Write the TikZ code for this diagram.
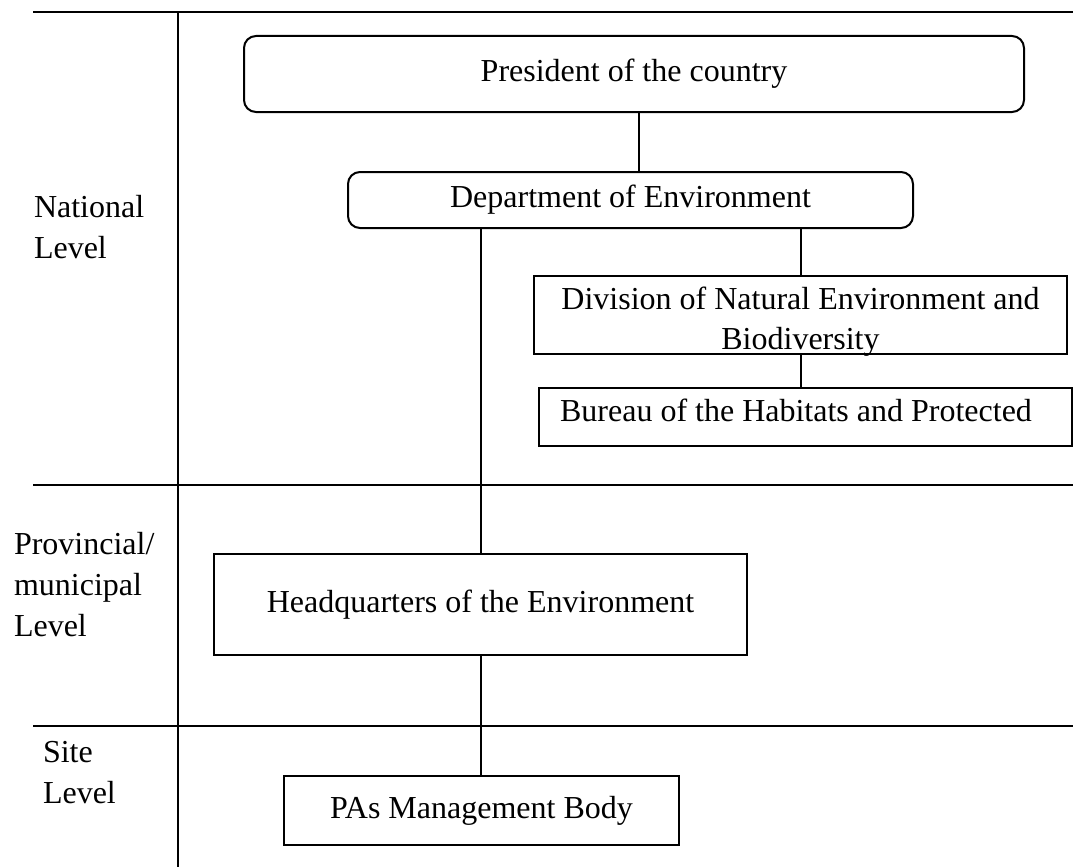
\documentclass[tikz,border=0pt]{standalone}
\usepackage{fontspec}
\setmainfont{Liberation Serif}

\begin{document}
\begin{tikzpicture}[x = 1pt, y = -1pt, line width = 2pt,
        every node/.style = {font = \fontsize{32}{41}\selectfont, inner sep = 0pt},
        unit/.style = {shape = rectangle, draw = black},
        roundunit/.style = {unit, rounded corners = 12pt},
        levelname/.style = {anchor = base west, align = left}]
    \useasboundingbox (0, 0) rectangle (1073, 867);

    % level grid
    \draw (33, 12) -- (1073, 12);
    \draw (178, 12) -- (178, 867);
    \draw (33, 485) -- (1073, 485);
    \draw (33, 726) -- (1073, 726);

    % anchor base = last line
    \node [levelname] (national) at (33, 258) {National\\Level};
    \node [levelname] (provincial) at (13, 636) {Provincial/\\municipal\\Level};
    \node [levelname] (site) at (42, 803) {Site\\Level};

    % national level
    \node [roundunit, minimum width = 780pt, minimum height = 76pt] (president) at (634, 74) {President of the country};
    \node [roundunit, minimum width = 565pt, minimum height = 56pt] (department) at (630.5, 200) {Department of Environment};
    \node [unit, minimum width = 533pt, minimum height = 78pt] (division) at (800.5, 315) {};
    \node [align = center, anchor = base, font = \fontsize{32}{40}\selectfont] (divisiontext) at (800.5, 349) {Division of Natural Environment and\\Biodiversity};
    \node [unit, minimum width = 533pt, minimum height = 58pt] (bureau) at (805.5, 417) {};
    \node [anchor = base] (bureautext) at (796, 421) {Bureau of the Habitats and Protected};

    % provincial and site level
    \node [unit, minimum width = 533pt, minimum height = 101pt] (headquarters) at (480.5, 604.5) {Headquarters of the Environment};
    \node [unit, minimum width = 395pt, minimum height = 69pt] (pas) at (481.5, 810.5) {PAs Management Body};

    \draw ([xshift = 5pt] president.south) -- ([xshift = 5pt] president.south |- department.north);
    \draw (headquarters.north |- department.south) -- (headquarters.north);
    \draw (division.north |- department.south) -- (division.north);
    \draw (division.south) -- (division.south |- bureau.north);
    \draw (headquarters.south) -- (headquarters.south |- pas.north);
\end{tikzpicture}
\end{document}
